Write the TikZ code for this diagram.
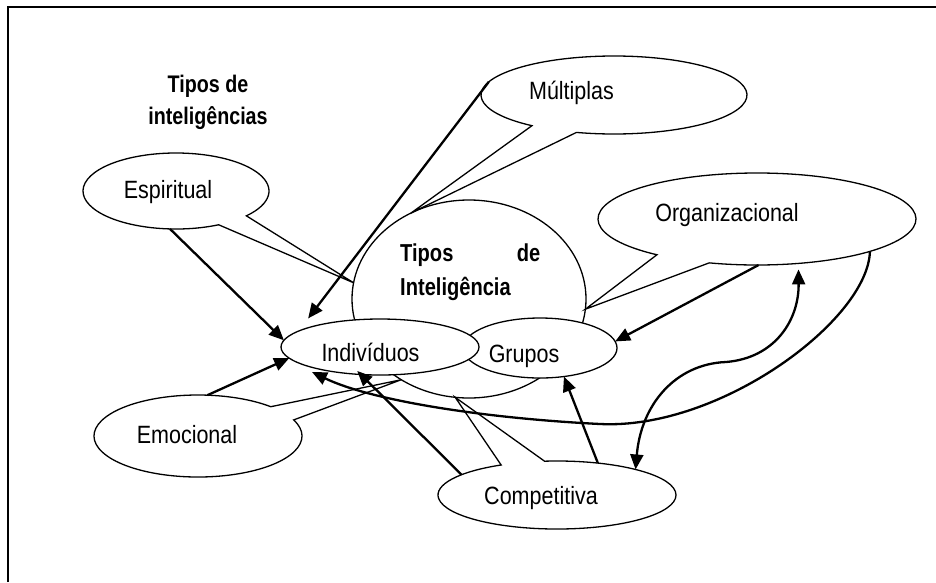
\documentclass[tikz,border=0pt]{standalone}
\usepackage{fontspec}
\setmainfont{Liberation Sans}[FakeStretch=0.86]
\newfontfamily\headfont{Liberation Sans}[FakeStretch=0.82]
\usetikzlibrary{shapes.geometric,arrows.meta}
\begin{document}
\begin{tikzpicture}[x=1pt,y=-1pt,
  bubble/.style={ellipse,inner sep=0pt,outer sep=0pt},
  solid bubble/.style={bubble,draw,line width=1.3pt,fill=white},
  outline/.style={line width=1.3pt,line join=miter},
  lbl/.style={font=\fontsize{25}{29}\selectfont,anchor=base,inner sep=0pt},
  heading/.style={inner sep=0pt},
  link/.style={line width=2.3pt,-{Triangle[length=15pt,width=13pt]}},
  twoway/.style={line width=2.3pt,{Triangle[length=15pt,width=13pt]}-{Triangle[length=15pt,width=13pt]}}]

\useasboundingbox (0,0) rectangle (936,582);
% page frame (top and left edges)
\draw[line width=1.6pt] (8,582) -- (8,7) -- (936,7);

% central ellipse and the two overlapping groups
\node[solid bubble, minimum width=234pt, minimum height=198pt] (tipos) at (469,299) {};
\node[solid bubble, minimum width=154pt, minimum height=60pt] (grp) at (540,348) {};
\node[solid bubble, minimum width=198pt, minimum height=56pt] (ind) at (380,347) {};

% speech bubbles (outline drawn with their tails below)
\node[bubble, minimum width=186pt, minimum height=76pt] (esp) at (176,191) {};
\node[bubble, minimum width=266pt, minimum height=78pt] (mul) at (614,95) {};
\node[bubble, minimum width=318pt, minimum height=92pt] (org) at (757,219) {};
\node[bubble, minimum width=208pt, minimum height=82pt] (emo) at (198,436) {};
\node[bubble, minimum width=238pt, minimum height=68pt] (com) at (557,495) {};

\draw[outline] ([shift={(62.7:93 and 38)}]esp.center)
  arc[start angle=62.7, end angle=400.8, x radius=93, y radius=38] -- (tipos.172) -- cycle;
\draw[outline] ([shift={(128.1:133 and 39)}]mul.center)
  arc[start angle=128.1, end angle=466.4, x radius=133, y radius=39] -- (tipos.124) -- cycle;
\draw[outline] ([shift={(129:159 and 46)}]org.center)
  arc[start angle=129, end angle=467.5, x radius=159, y radius=46] -- (tipos.-5) -- cycle;
\draw[outline] ([shift={(-23.1:104 and 41)}]emo.center)
  arc[start angle=-23.1, end angle=314.4, x radius=104, y radius=41] -- (tipos.230) -- cycle;
\draw[outline] ([shift={(-96:119 and 34)}]com.center)
  arc[start angle=-96, end angle=242, x radius=119, y radius=34] -- (tipos.262) -- cycle;

% texts
\node[heading, font=\headfont\bfseries\fontsize{24}{32}\selectfont, align=center, anchor=north]
  (title) at (208,74.5) {Tipos de\\inteligências};
\node[heading, font=\headfont\bfseries\fontsize{24.5}{33.5}\selectfont, text width=140pt,
  align=left, anchor=north west] (tipos-t) at (400,243.6) {Tipos\hfill de\\Inteligência};
\node[lbl] (esp-t) at (168,198) {Espiritual};
\node[lbl] (mul-t) at (571.5,99) {Múltiplas};
\node[lbl] (org-t) at (727,221) {Organizacional};
\node[lbl] (ind-t) at (370.5,361) {Indivíduos};
\node[lbl] (grp-t) at (524,362.5) {Grupos};
\node[lbl] (emo-t) at (187,443) {Emocional};
\node[lbl] (com-t) at (541,504) {Competitiva};

% connectors
\coordinate (bigtip) at ([shift={(-68,25)}]ind.center);
\draw[link] (esp.261) -- (ind.176);
\draw[link, shorten >=16pt] (mul.174) -- (ind.169);
\draw[link] (emo.77) -- (ind.187);
\draw[link, shorten >=-5pt] (com.168) -- (ind.235);
\draw[link] (com.38) -- (grp.-50);
\draw[link] (org.272) -- (grp.5);
\draw[twoway, shorten >=6pt] (com.18) .. controls (641,405) and (675,364) .. (726,362)
  .. controls (775,358) and (799,320) .. (org.-47);
\draw[link] (org.-16) .. controls (868,320) and (720,430) .. (600,424)
  .. controls (480,418) and (370,400) .. (bigtip);
\end{tikzpicture}
\end{document}
